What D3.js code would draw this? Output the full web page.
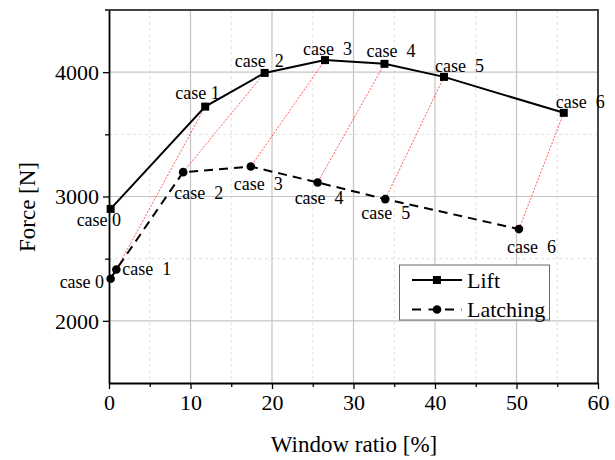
<!DOCTYPE html>
<html>
<head>
<meta charset="utf-8">
<script src="https://cdn.jsdelivr.net/npm/d3@7"></script>
<style>
  html, body { margin: 0; padding: 0; background: #fff; }
  svg text { font-family: 'Liberation Serif', 'Tinos', 'Times New Roman', 'DejaVu Serif', serif !important; white-space: pre; }
</style>
</head>
<body>
<svg id="chart" width="615" height="460" font-family="'Liberation Serif', 'DejaVu Serif', serif"></svg>
<script>
// ---- data ----
const liftX = [0.2, 11.8, 19.1, 26.5, 33.8, 41.1, 55.8];
const liftY = [2900, 3723, 3994, 4097, 4067, 3962, 3673];
const latchX = [0.2, 0.9, 9.1, 17.4, 25.6, 33.9, 50.3];
const latchY = [2338, 2413, 3196, 3241, 3113, 2979, 2738];
const liftLabels = ["case 0", "case 1", "case  2", "case  3", "case  4", "case  5", "case  6"];
const latchLabels = ["case 0", "case  1", "case  2", "case  3", "case  4", "case  5", "case  6"];
const xTicks = [0, 10, 20, 30, 40, 50, 60];
const yTicks = [2000, 3000, 4000];
const xMinor = [5, 15, 25, 35, 45, 55];
const yMinor = [2500, 3500];
const seriesNames = ["Lift", "Latching"];

// label offsets (pixels, relative to the point): [dx, dy baseline]
const liftLabelOff = [[-34, 17], [-30, -8], [-30, -6], [-22, -5], [-18, -7], [-9, -5], [-8, -5]];
const latchLabelOff = [[-51, 9], [6, 6], [-9, 27], [-17, 23], [-23, 22], [-24, 20], [-12, 24]];

const FONT = "'Liberation Serif', 'DejaVu Serif', serif";
const svg = d3.select("#chart");
const L = 109, R = 598, T = 10, B = 383;
const x = d3.scaleLinear().domain([0, 60]).range([L, R]);
const y = d3.scaleLinear().domain([1500, 4500]).range([B, T]);

// grid
const grid = svg.append("g");
grid.selectAll(".vmin").data(xMinor).join("line")
  .attr("x1", d => x(d)).attr("x2", d => x(d)).attr("y1", T).attr("y2", B)
  .attr("stroke", "#e0e0e0").attr("stroke-width", 1).attr("stroke-dasharray", "3,3");
grid.selectAll(".hmin").data(yMinor).join("line")
  .attr("x1", L).attr("x2", R).attr("y1", d => y(d)).attr("y2", d => y(d))
  .attr("stroke", "#e0e0e0").attr("stroke-width", 1).attr("stroke-dasharray", "3,3");
grid.selectAll(".vmaj").data(xTicks.filter(d => d > 0 && d < 60)).join("line")
  .attr("x1", d => x(d)).attr("x2", d => x(d)).attr("y1", T).attr("y2", B)
  .attr("stroke", "#c4c4c4").attr("stroke-width", 1.2);
grid.selectAll(".hmaj").data(yTicks).join("line")
  .attr("x1", L).attr("x2", R).attr("y1", d => y(d)).attr("y2", d => y(d))
  .attr("stroke", "#c4c4c4").attr("stroke-width", 1.2);

// frame top/right
svg.append("line").attr("x1", L - 4).attr("x2", R + 1).attr("y1", T).attr("y2", T)
  .attr("stroke", "#444").attr("stroke-width", 2);
svg.append("line").attr("x1", R).attr("x2", R).attr("y1", T).attr("y2", B)
  .attr("stroke", "#444").attr("stroke-width", 2);

// red connectors
const idx = d3.range(1, liftX.length);
svg.append("g").selectAll("line").data(idx).join("line")
  .attr("x1", i => x(liftX[i])).attr("y1", i => y(liftY[i]))
  .attr("x2", i => x(latchX[i])).attr("y2", i => y(latchY[i]))
  .attr("stroke", "#ff3030").attr("stroke-width", 0.8).attr("stroke-dasharray", "2,1.5");

// lines
const lift = liftX.map((v, i) => [v, liftY[i]]);
const latch = latchX.map((v, i) => [v, latchY[i]]);
const line = d3.line().x(d => x(d[0])).y(d => y(d[1]));
svg.append("path").datum(lift).attr("d", line).attr("fill", "none")
  .attr("stroke", "#000").attr("stroke-width", 2);
svg.append("path").datum(latch).attr("d", line).attr("fill", "none")
  .attr("stroke", "#000").attr("stroke-width", 2).attr("stroke-dasharray", "9,6");

// markers
svg.append("g").selectAll("rect").data(lift).join("rect")
  .attr("x", d => x(d[0]) - 4).attr("y", d => y(d[1]) - 4)
  .attr("width", 8).attr("height", 8).attr("fill", "#000");
svg.append("g").selectAll("circle").data(latch).join("circle")
  .attr("cx", d => x(d[0])).attr("cy", d => y(d[1])).attr("r", 4.3).attr("fill", "#000");

// axes
const xAxis = svg.append("g").attr("transform", `translate(0,${B})`)
  .call(d3.axisBottom(x).tickValues(xTicks).tickSize(6).tickSizeOuter(0).tickPadding(5).tickFormat(d3.format("d")));
svg.append("g").attr("transform", `translate(0,${B})`)
  .call(d3.axisBottom(x).tickValues(xMinor).tickSize(4).tickSizeOuter(0).tickFormat(""))
  .select(".domain").remove();
const yAxis = svg.append("g").attr("transform", `translate(${L},0)`)
  .call(d3.axisLeft(y).tickValues(yTicks).tickSize(6).tickSizeOuter(0).tickPadding(4).tickFormat(d3.format("d")));
svg.append("g").attr("transform", `translate(${L},0)`)
  .call(d3.axisLeft(y).tickValues(yMinor).tickSize(4).tickSizeOuter(0).tickFormat(""))
  .select(".domain").remove();
svg.selectAll("g").attr("font-family", FONT);
svg.selectAll(".domain").attr("stroke", "#000").attr("stroke-width", 1.8);
svg.selectAll(".tick line").attr("stroke", "#000").attr("stroke-width", 1.3);
xAxis.selectAll("text").attr("font-size", 22).attr("fill", "#000").attr("dy", "0.71em");
yAxis.selectAll("text").attr("font-size", 22).attr("fill", "#000").attr("dy", "0.34em");

// point labels
svg.append("g").selectAll("text").data(lift).join("text")
  .attr("x", (d, i) => x(d[0]) + liftLabelOff[i][0])
  .attr("y", (d, i) => y(d[1]) + liftLabelOff[i][1])
  .attr("font-size", 18).attr("fill", "#000")
  .text((d, i) => liftLabels[i]);
svg.append("g").selectAll("text").data(latch).join("text")
  .attr("x", (d, i) => x(d[0]) + latchLabelOff[i][0])
  .attr("y", (d, i) => y(d[1]) + latchLabelOff[i][1])
  .attr("font-size", 18).attr("fill", "#000")
  .text((d, i) => latchLabels[i]);

// axis titles
svg.append("text").attr("x", 354).attr("y", 452).attr("text-anchor", "middle")
  .attr("font-size", 23).attr("fill", "#000").text("Window ratio [%]");
svg.append("text").attr("transform", "translate(35,207) rotate(-90)").attr("text-anchor", "middle")
  .attr("font-size", 23).attr("fill", "#000").text("Force [N]");

// legend
const lg = svg.append("g");
lg.append("rect").attr("x", 399.5).attr("y", 265).attr("width", 150).attr("height", 55)
  .attr("fill", "#fff").attr("stroke", "#666").attr("stroke-width", 1);
const rows = [280, 309.5];
lg.append("line").attr("x1", 412).attr("x2", 462).attr("y1", rows[0]).attr("y2", rows[0])
  .attr("stroke", "#000").attr("stroke-width", 2);
lg.append("rect").attr("x", 437 - 4).attr("y", rows[0] - 4).attr("width", 8).attr("height", 8).attr("fill", "#000");
lg.append("line").attr("x1", 412).attr("x2", 462).attr("y1", rows[1]).attr("y2", rows[1])
  .attr("stroke", "#000").attr("stroke-width", 2).attr("stroke-dasharray", "9,7.5");
lg.append("circle").attr("cx", 437).attr("cy", rows[1]).attr("r", 4.3).attr("fill", "#000");
lg.selectAll("text.lg").data(seriesNames).join("text")
  .attr("x", 467).attr("y", (d, i) => rows[i] + 7.5)
  .attr("font-size", 22).attr("fill", "#000").text(d => d);
</script>
</body>
</html>
